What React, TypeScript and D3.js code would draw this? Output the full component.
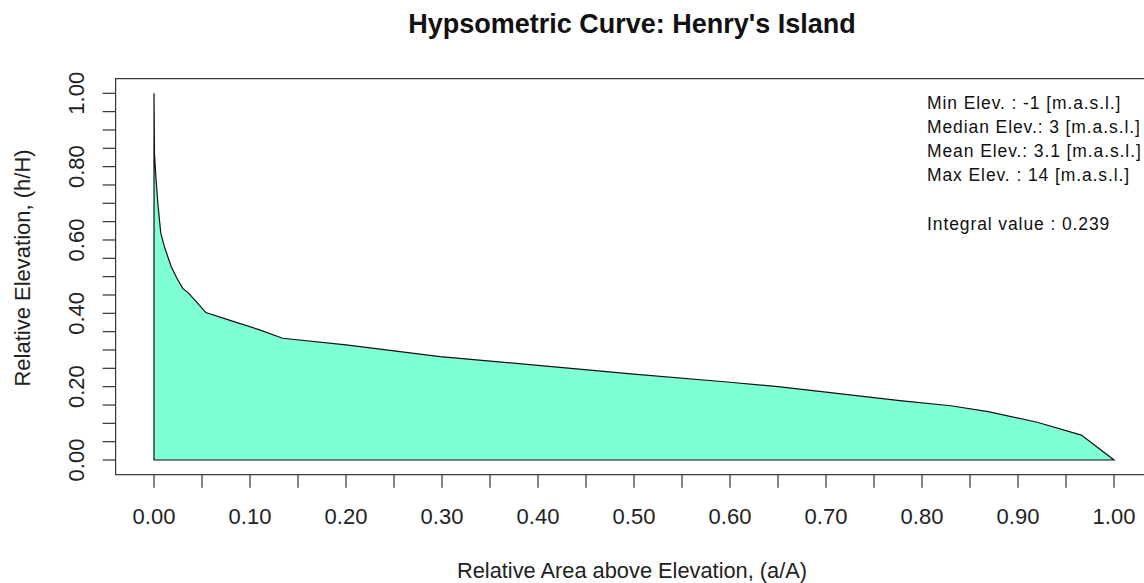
import React from 'react';
import * as d3 from 'd3';

// curve points (relative area, relative elevation)
const areaVals = [0, 0.0005, 0.002, 0.004, 0.007, 0.011, 0.018, 0.024, 0.03, 0.036, 0.044, 0.054, 0.08, 0.11, 0.134, 0.2, 0.298, 0.4, 0.5, 0.6, 0.65, 0.7, 0.777, 0.83, 0.869, 0.92, 0.966, 1.0];
const elevVals = [1.0, 0.835, 0.77, 0.7, 0.62, 0.58, 0.527, 0.495, 0.468, 0.455, 0.432, 0.402, 0.38, 0.355, 0.332, 0.314, 0.282, 0.258, 0.234, 0.212, 0.2, 0.185, 0.162, 0.148, 0.132, 0.103, 0.068, 0.0];

const xTicks = [0, 0.05, 0.1, 0.15, 0.2, 0.25, 0.3, 0.35, 0.4, 0.45, 0.5, 0.55, 0.6, 0.65, 0.7, 0.75, 0.8, 0.85, 0.9, 0.95, 1.0];
const xLabels = [0, 0.1, 0.2, 0.3, 0.4, 0.5, 0.6, 0.7, 0.8, 0.9, 1.0];
const yTicks = [0, 0.05, 0.1, 0.15, 0.2, 0.25, 0.3, 0.35, 0.4, 0.45, 0.5, 0.55, 0.6, 0.65, 0.7, 0.75, 0.8, 0.85, 0.9, 0.95, 1.0];
const yLabels = [0, 0.2, 0.4, 0.6, 0.8, 1.0];

const statLines = [
  'Min Elev. : -1 [m.a.s.l.]',
  'Median Elev.: 3 [m.a.s.l.]',
  'Mean Elev.: 3.1 [m.a.s.l.]',
  'Max Elev. : 14 [m.a.s.l.]',
  '',
  'Integral value : 0.239',
];

const W = 1144;
const H = 583;
const font = '"Liberation Sans", Arial, sans-serif';
const axisCol = '#333';

export default function App() {
  const x = d3.scaleLinear().domain([0, 1]).range([154, 1114]);
  const y = d3.scaleLinear().domain([0, 1]).range([460, 93.3]);

  const pts = areaVals.map((a, i) => [a, elevVals[i]] as [number, number]);
  const area = d3.area<[number, number]>()
    .x(d => x(d[0]))
    .y0(y(0))
    .y1(d => y(d[1]));

  // R-style box: 4% padding around the data range
  const boxL = x(-0.04);
  const boxR = x(1.04);
  const boxT = y(1.04);
  const boxB = y(-0.04);

  return (
    <svg width={W} height={H} style={{ position: 'absolute', left: 0, top: 0, background: '#fff' }} fontFamily={font}>
      <text x={632} y={33} textAnchor="middle" fontSize={27} fontWeight="bold" fill="#111">
        Hypsometric Curve: Henry's Island
      </text>

      <path d={area(pts) || ''} fill="#7FFFD4" stroke="#111" strokeWidth={1.2} />

      <rect x={boxL} y={boxT} width={boxR - boxL} height={boxB - boxT} fill="none" stroke={axisCol} strokeWidth={1.2} />

      {/* x axis */}
      {xTicks.map(t => (
        <line key={'xt' + t} x1={x(t)} x2={x(t)} y1={boxB} y2={boxB + 13} stroke={axisCol} strokeWidth={1.2} />
      ))}
      {xLabels.map(t => (
        <text key={'xl' + t} x={x(t)} y={524} textAnchor="middle" fontSize={22} fill="#222">
          {t.toFixed(2)}
        </text>
      ))}
      <text x={632} y={578} textAnchor="middle" fontSize={21.8} fill="#222">
        Relative Area above Elevation, (a/A)
      </text>

      {/* y axis */}
      {yTicks.map(t => (
        <line key={'yt' + t} x1={boxL - 13} x2={boxL} y1={y(t)} y2={y(t)} stroke={axisCol} strokeWidth={1.2} />
      ))}
      {yLabels.map(t => (
        <text key={'yl' + t} transform={`translate(83.5,${y(t)}) rotate(-90)`} textAnchor="middle" fontSize={22} fill="#222">
          {t.toFixed(2)}
        </text>
      ))}
      <text transform="translate(30,268) rotate(-90)" textAnchor="middle" fontSize={22} fill="#222">
        Relative Elevation, (h/H)
      </text>

      {statLines.map((s, i) => (
        <text key={'s' + i} x={927} y={108.5 + i * 24.3} fontSize={17.5} letterSpacing={0.9} fill="#111">
          {s}
        </text>
      ))}
    </svg>
  );
}
